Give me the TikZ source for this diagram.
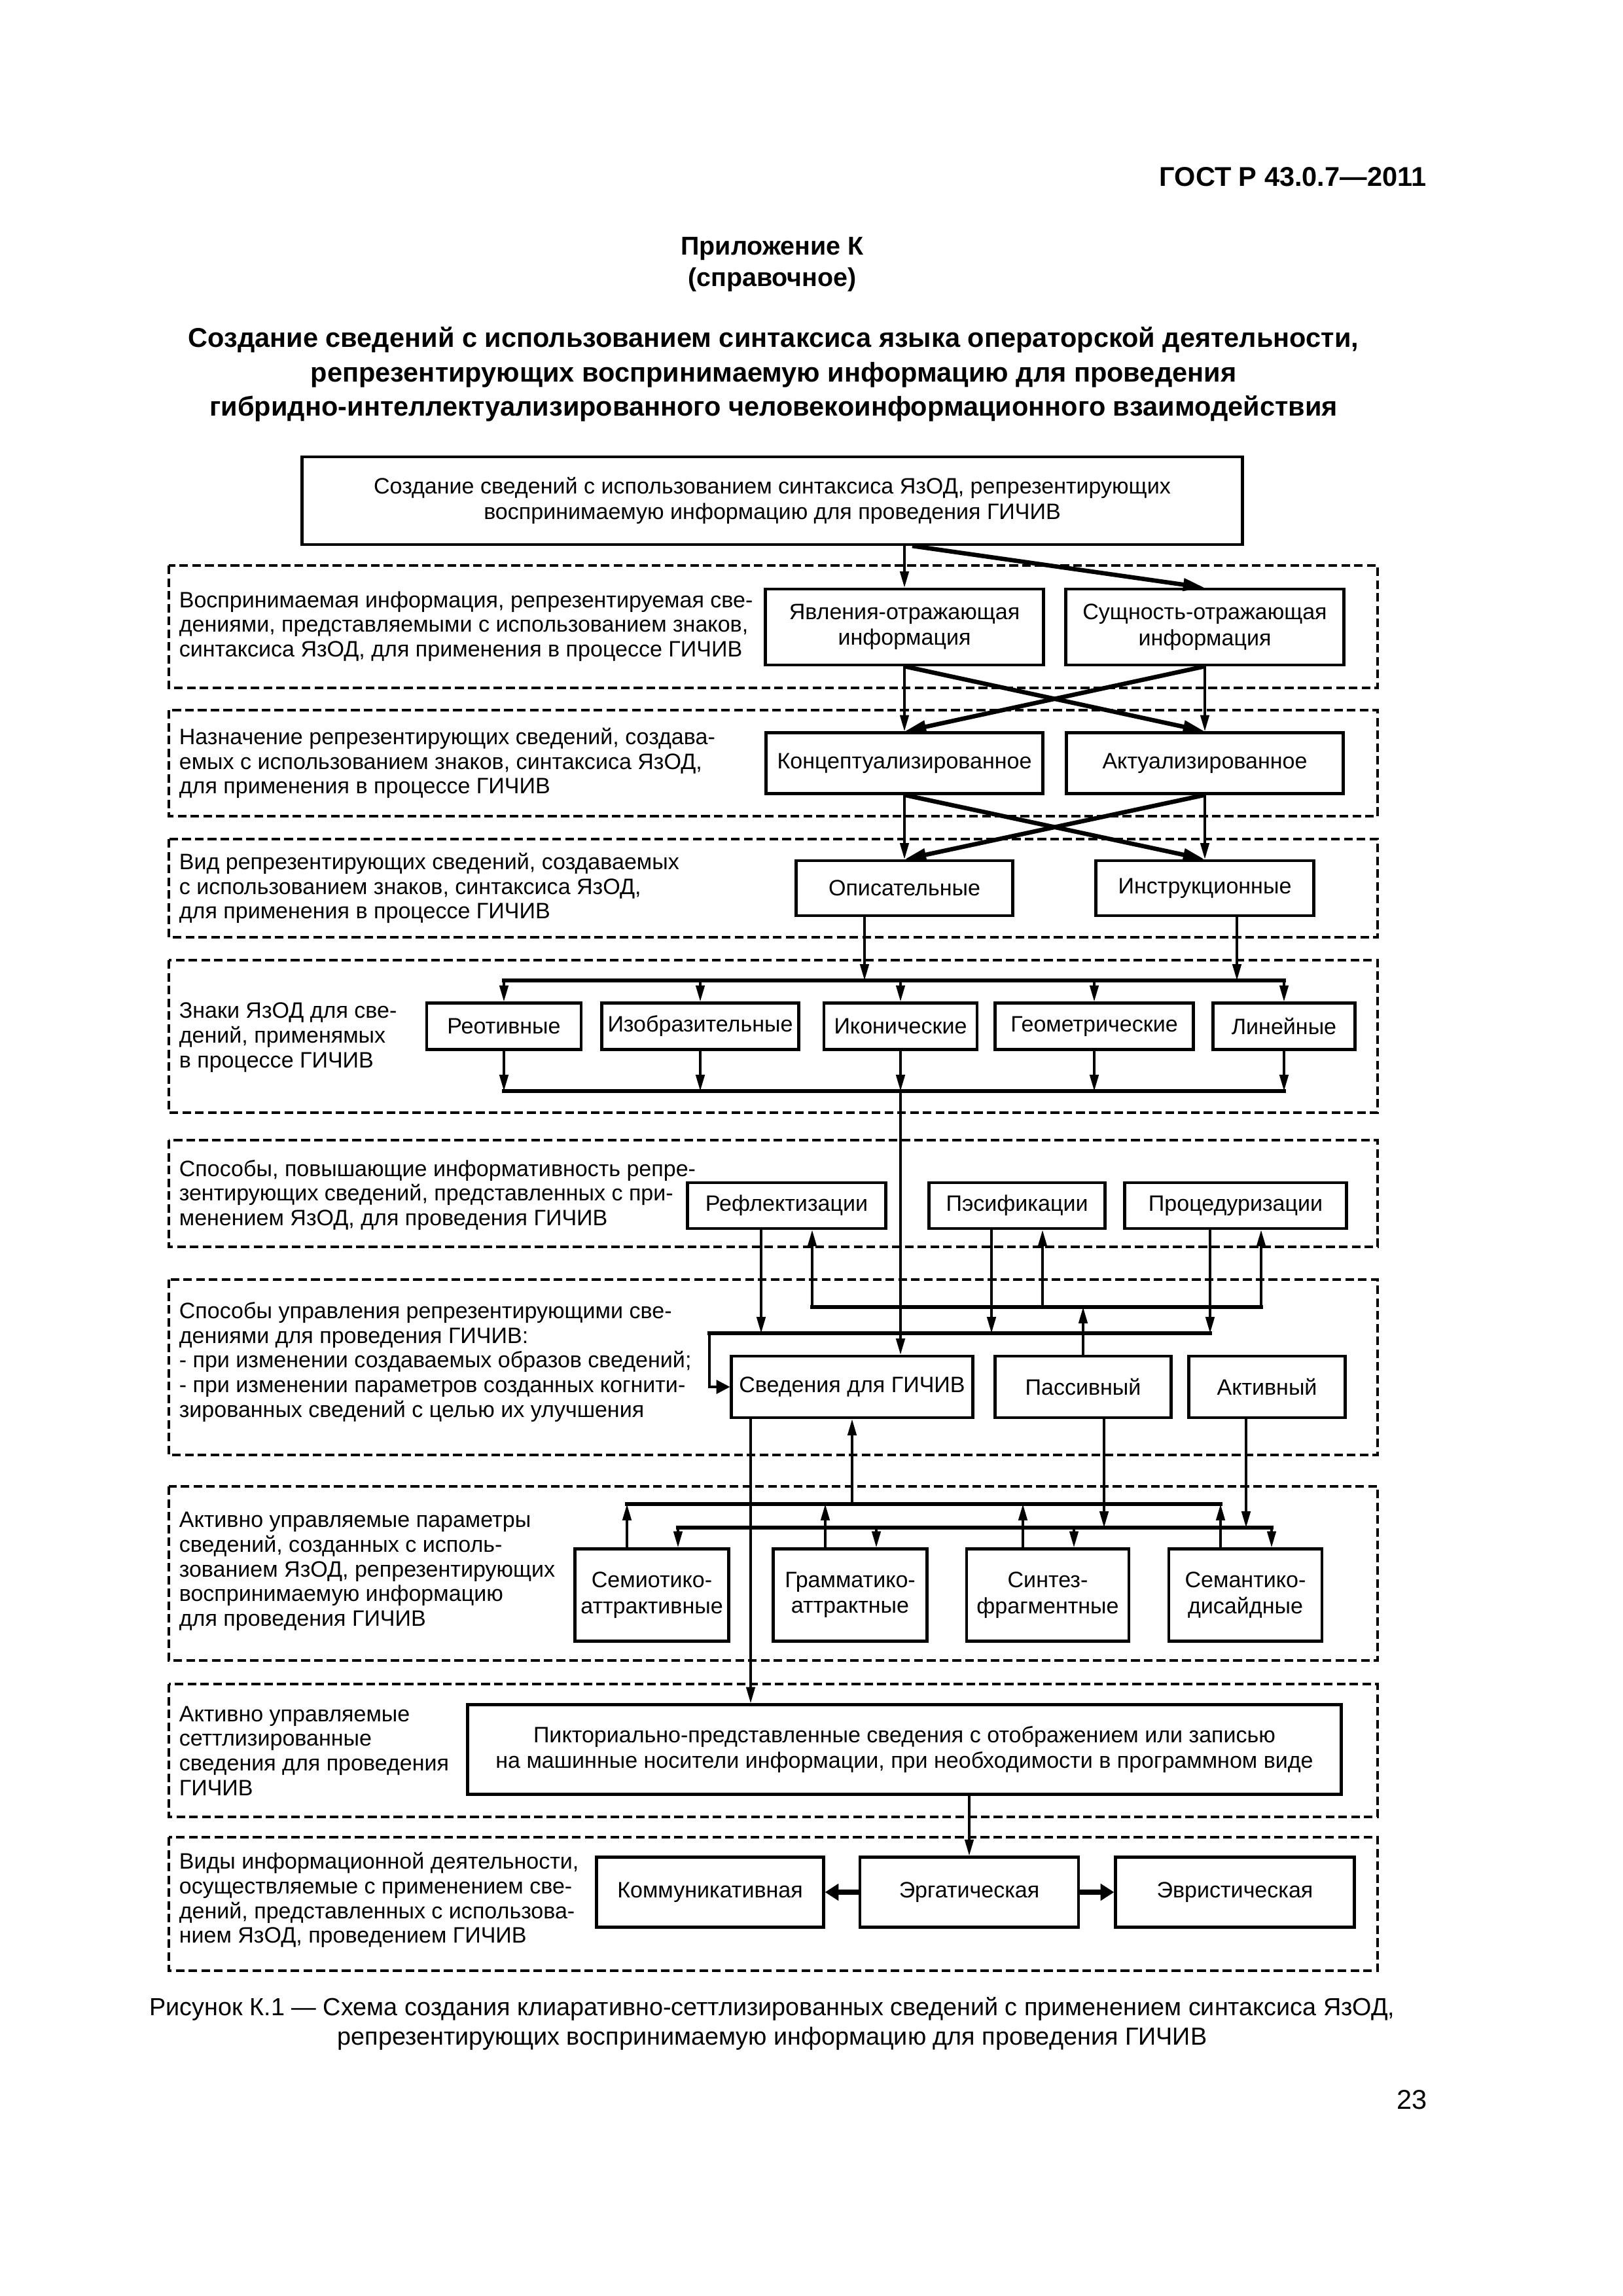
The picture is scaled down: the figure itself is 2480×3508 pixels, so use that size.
\documentclass[tikz,border=0pt]{standalone}
\usepackage{fontspec}
\setmainfont{Liberation Sans}
\usetikzlibrary{arrows.meta,calc}

\newcommand{\pu}{0.0846667mm}
\newcommand{\boxfont}{\fontsize{8.2}{9.5}\selectfont}
\newcommand{\labfont}{\fontsize{8.2}{9.1}\selectfont}

\tikzset{
  blk/.style={draw, line width=1pt, align=center, inner sep=1pt, font=\boxfont},
  sz/.style 2 args={minimum width=#1*\pu, minimum height=#2*\pu},
  lab/.style={anchor=west, align=left, inner sep=0pt, font=\labfont},
  zone/.style={line width=0.8pt, dash pattern=on 3.2pt off 1.5pt},
  arr/.style={line width=0.9pt, -{Triangle[length=6pt,width=3.2pt]}},
  thk/.style={line width=1.6pt, -{Triangle[length=8pt,width=4.4pt]}},
  sarr/.style={line width=0.9pt, -{Triangle[length=5pt,width=5pt]}},
  fat/.style={line width=1.8pt, -{Triangle[length=5pt,width=6pt]}},
  bus/.style={line width=1.6pt, line cap=rect},
}

\begin{document}
\begin{tikzpicture}[x=\pu, y=-\pu]
\fill[white] (0,0) rectangle (2480,3508);
\useasboundingbox (0,0) rectangle (2480,3508);

% header
\node[anchor=east, inner sep=0pt, font=\bfseries\fontsize{10}{12}\selectfont] (gost) at (2180,270) {ГОСТ Р 43.0.7—2011};
\node[font=\bfseries\fontsize{9.5}{11}\selectfont] (app) at (1180,380) {Приложение К};
\node[font=\bfseries\fontsize{9.5}{11}\selectfont] (spr) at (1180,427) {(справочное)};
\node[align=center, font=\bfseries\fontsize{10}{12.6}\selectfont] (title) at (1182,572)
  {Создание сведений с использованием синтаксиса языка операторской деятельности,\\
   репрезентирующих воспринимаемую информацию для проведения\\
   гибридно-интеллектуализированного человекоинформационного взаимодействия};

% dashed zones
\foreach \t/\b in {864/1051,1085/1247,1282/1432,1467/1700,1742/1905,1955/2223,2271/2537,2573/2776,2807/3011}
  \draw[zone] (258,\t) rectangle (2105,\b);

% zone texts
\node[lab] (l1) at (273,957) {Воспринимаемая информация, репрезентируемая све-\\дениями, представляемыми с использованием знаков,\\синтаксиса ЯзОД, для применения в процессе ГИЧИВ};
\node[lab] (l2) at (273,1166) {Назначение репрезентирующих сведений, создава-\\емых с использованием знаков, синтаксиса ЯзОД,\\для применения в процессе ГИЧИВ};
\node[lab] (l3) at (273,1357) {Вид репрезентирующих сведений, создаваемых\\с использованием знаков, синтаксиса ЯзОД,\\для применения в процессе ГИЧИВ};
\node[lab] (l4) at (273,1585) {Знаки ЯзОД для све-\\дений, применямых\\в процессе ГИЧИВ};
\node[lab] (l5) at (273,1826) {Способы, повышающие информативность репре-\\зентирующих сведений, представленных с при-\\менением ЯзОД, для проведения ГИЧИВ};
\node[lab] (l6) at (273,2081) {Способы управления репрезентирующими све-\\дениями для проведения ГИЧИВ:\\- при изменении создаваемых образов сведений;\\- при изменении параметров созданных когнити-\\зированных сведений с целью их улучшения};
\node[lab] (l7) at (273,2401) {Активно управляемые параметры\\сведений, созданных с исполь-\\зованием ЯзОД, репрезентирующих\\воспринимаемую информацию\\для проведения ГИЧИВ};
\node[lab] (l8) at (273,2675) {Активно управляемые\\сеттлизированные\\сведения для проведения\\ГИЧИВ};
\node[lab] (l9) at (273,2903) {Виды информационной деятельности,\\осуществляемые с применением све-\\дений, представленных с использова-\\нием ЯзОД, проведением ГИЧИВ};

% boxes
\node[blk, sz={1437}{134}] (top) at (1180,765) {Создание сведений с использованием синтаксиса ЯзОД, репрезентирующих\\воспринимаемую информацию для проведения ГИЧИВ};
\node[blk, sz={425}{116}] (yavl) at (1382,958) {Явления-отражающая\\информация};
\node[blk, sz={425}{116}] (sush) at (1841,958) {Сущность-отражающая\\информация};
\node[blk, sz={423}{93}] (konc) at (1382,1166) {Концептуализированное};
\node[blk, sz={423}{93}] (aktu) at (1841,1166) {Актуализированное};
\node[blk, sz={331}{84}] (opis) at (1382,1357) {Описательные};
\node[blk, sz={333}{84}] (instr) at (1841,1357) {Инструкционные};

\node[blk, sz={236}{71}] (reot) at (770,1568) {Реотивные};
\node[blk, sz={301}{71}] (izob) at (1070,1568) {Изобразительные};
\node[blk, sz={234}{71}] (ikon) at (1376,1568) {Иконические};
\node[blk, sz={303}{71}] (geom) at (1672,1568) {Геометрические};
\node[blk, sz={217}{71}] (lin) at (1962,1568) {Линейные};

\node[blk, sz={303}{70}] (refl) at (1202,1842) {Рефлектизации};
\node[blk, sz={269}{70}] (pesif) at (1554,1842) {Пэсификации};
\node[blk, sz={339}{70}] (proc) at (1888,1842) {Процедуризации};

\node[blk, sz={369}{94}] (sved) at (1302,2119) {Сведения для ГИЧИВ};
\node[blk, sz={269}{94}] (pass) at (1655,2119) {Пассивный};
\node[blk, sz={239}{94}] (aktiv) at (1936,2119) {Активный};

\node[blk, sz={235}{141}] (semio) at (996,2437) {Семиотико-\\аттрактивные};
\node[blk, sz={235}{141}] (gramm) at (1299,2437) {Грамматико-\\аттрактные};
\node[blk, sz={248}{141}] (sint) at (1601,2437) {Синтез-\\фрагментные};
\node[blk, sz={234}{141}] (seman) at (1903,2437) {Семантико-\\дисайдные};

\node[blk, sz={1335}{137}] (pikt) at (1382,2673) {Пикториально-представленные сведения с отображением или записью\\на машинные носители информации, при необходимости в программном виде};

\node[blk, sz={347}{107}] (komm) at (1085,2891) {Коммуникативная};
\node[blk, sz={334}{107}] (erg) at (1481,2891) {Эргатическая};
\node[blk, sz={365}{107}] (evr) at (1887,2891) {Эвристическая};

% bus levels
\coordinate (tb) at (0,1498);
\coordinate (bb) at (0,1667);
\coordinate (ub) at (0,1997);
\coordinate (lb) at (0,2037);
\coordinate (ua) at (0,2298);
\coordinate (la) at (0,2334);

% upper part
\draw[arr] (yavl.north |- top.south) -- (yavl.north);
\draw[thk] ($(top.south)+(214,0)$) -- (sush.north);
\draw[arr] (yavl.south) -- (konc.north);
\draw[arr] (sush.south) -- (aktu.north);
\draw[thk] (yavl.south) -- (aktu.north);
\draw[thk] (sush.south) -- (konc.north);
\draw[arr] (konc.south) -- (opis.north);
\draw[arr] (aktu.south) -- (instr.north);
\draw[thk] (konc.south) -- (instr.north);
\draw[thk] (aktu.south) -- (opis.north);

% signs
\coordinate (o1) at ($(opis.south)+(-61,0)$);
\coordinate (i1) at ($(instr.south)+(49,0)$);
\draw[arr] (o1) -- (o1 |- tb);
\draw[arr] (i1) -- (i1 |- tb);
\draw[bus] (reot.north |- tb) -- (lin.north |- tb);
\draw[bus] (reot.south |- bb) -- (lin.south |- bb);
\foreach \n in {reot,izob,ikon,geom,lin} {
  \draw[arr] (\n.north |- tb) -- (\n.north);
  \draw[arr] (\n.south) -- (\n.south |- bb);
}
\draw[arr] (ikon.south |- bb) -- (ikon.south |- sved.north);

% ways
\foreach \n in {refl,pesif,proc} {
  \coordinate (\n-d) at ($(\n.south)+(-39,0)$);
  \coordinate (\n-u) at ($(\n.south)+(39,0)$);
  \draw[arr] (\n-d) -- (\n-d |- lb);
  \draw[arr] (\n-u |- ub) -- (\n-u);
}
\draw[bus] (refl-u |- ub) -- (proc-u |- ub);
\coordinate (lbl) at (1084,2037);
\draw[bus] (lbl) -- (proc-d |- lb);
\draw[sarr] (lbl) |- (sved.west);
\draw[arr] (pass.north) -- (pass.north |- ub);

% parameters
\foreach \n in {semio,gramm,sint,seman} {
  \coordinate (\n-u) at ($(\n.north)+(-38,0)$);
  \coordinate (\n-d) at ($(\n.north)+(40,0)$);
  \draw[arr] (\n-u) -- (\n-u |- ua);
  \draw[arr] (\n-d |- la) -- (\n-d);
}
\draw[bus] (semio-u |- ua) -- (seman-u |- ua);
\draw[bus] (semio-d |- la) -- (seman-d |- la);
\draw[arr] (sved.south |- ua) -- (sved.south);
\coordinate (s2) at ($(sved.south)+(-155,0)$);
\draw[arr] (s2) -- (s2 |- pikt.north);
\coordinate (p2) at ($(pass.south)+(32,0)$);
\draw[arr] (p2) -- (p2 |- la);
\coordinate (a2) at ($(aktiv.south)+(-32,0)$);
\draw[arr] (a2) -- (a2 |- la);

% activity
\draw[arr] (erg.north |- pikt.south) -- (erg.north);
\draw[fat] (erg.west) -- (komm.east);
\draw[fat] (erg.east) -- (evr.west);

% caption
\node[align=center, font=\fontsize{9.1}{11}\selectfont] (cap) at (1180,3092)
  {Рисунок~К.1 — Схема создания клиаративно-сеттлизированных сведений с применением синтаксиса ЯзОД,\\
   репрезентирующих воспринимаемую информацию для проведения ГИЧИВ};
\node[anchor=east, inner sep=0pt, font=\fontsize{10}{12}\selectfont] (pg) at (2181,3208) {23};
\end{tikzpicture}
\end{document}
